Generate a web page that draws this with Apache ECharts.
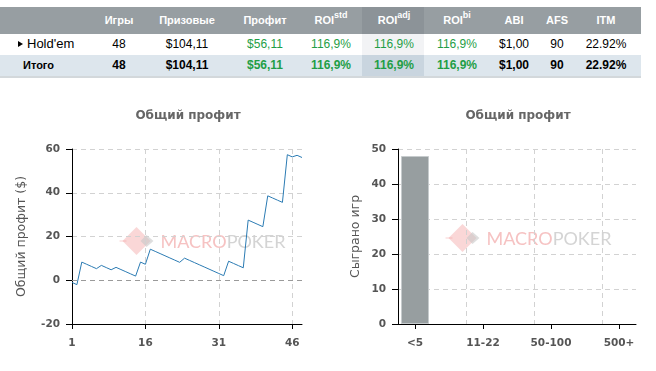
<!DOCTYPE html>
<html><head><meta charset="utf-8">
<script src="https://cdn.jsdelivr.net/npm/echarts@6/dist/echarts.min.js"></script>
<style>
html,body{margin:0;padding:0;background:#fff;width:656px;height:371px;overflow:hidden;}
#chart{position:absolute;left:0;top:0;width:656px;height:371px;}
#tbl{position:absolute;left:0;top:0;width:656px;height:80px;z-index:2;font-family:"Liberation Sans",Arial,sans-serif;}
.band{position:absolute;left:0;width:641px;}
.cell{position:absolute;white-space:nowrap;transform:translateX(-50%);line-height:14px;}
sup{font-size:9px;line-height:0;position:relative;top:-1px;}
</style></head>
<body>
<div id="tbl"></div>
<div id="chart"></div>
<script>
// ---- table data ----
const headerNames = ['Игры','Призовые','Профит','ROI','ROI','ROI','ABI','AFS','ITM'];
const headerSups  = ['','','','std','adj','bi','','',''];
const rowLabels   = ["Hold'em", 'Итого'];
const holdemRow   = ['48','$104,11','$56,11','116,9%','116,9%','116,9%','$1,00','90','22.92%'];
const totalRow    = ['48','$104,11','$56,11','116,9%','116,9%','116,9%','$1,00','90','22.92%'];
const greenCols   = [2,3,4,5];

// ---- chart data ----
const games = ['1','2','3','4','5','6','7','8','9','10','11','12','13','14','15','16','17','18','19','20','21','22','23','24','25','26','27','28','29','30','31','32','33','34','35','36','37','38','39','40','41','42','43','44','45','46','47','48'];
const profit = [-1,-2,8.3,7.3,6.3,5.3,6.8,5.8,4.8,5.9,4.9,3.9,2.9,1.9,8.3,7.3,14.2,13.2,12.2,11.2,10.2,9.2,8.2,10.1,9.1,8.1,7.1,6.1,5.1,4.1,3.1,2.1,8.7,7.7,6.7,5.7,27.5,26.5,25.5,24.5,38.6,37.6,36.6,35.6,57.4,56.4,57.11,56.11];
const buyinCats = ['<5','5-10','11-22','22-50','50-100','100-500','500+'];
const gamesPlayed = [48,0,0,0,0,0,0];

// ---- build table (HTML) ----
const colX = [119,187,265,331,394,457,514,557,606];
const tbl = document.getElementById('tbl');
function band(top,h,bg){const d=document.createElement('div');d.className='band';d.style.top=top+'px';d.style.height=h+'px';d.style.background=bg;tbl.appendChild(d);return d;}
band(7,27,'#979ea2');
band(34,21,'#ffffff');
band(55,21,'#dde6ed');
band(76,2,'#d3d8db');
function block(l,t,w,h,bg){const d=document.createElement('div');d.style.cssText='position:absolute;left:'+l+'px;top:'+t+'px;width:'+w+'px;height:'+h+'px;background:'+bg;tbl.appendChild(d);}
block(362,7,62,27,'#8c9398');
block(362,34,62,21,'#f2f3f5');
block(362,55,62,21,'#c9d5df');
function cell(x,y,txt,style){const d=document.createElement('div');d.className='cell';d.style.left=x+'px';d.style.top=y+'px';d.style.cssText+=style;d.innerHTML=txt;tbl.appendChild(d);}
headerNames.forEach((h,i)=>{cell(colX[i],13,h+(headerSups[i]?'<sup>'+headerSups[i]+'</sup>':''),'color:#fff;font-weight:bold;font-size:11px;');});
const tri=document.createElement('div');tri.style.cssText='position:absolute;left:18px;top:41px;width:0;height:0;border-top:3.5px solid transparent;border-bottom:3.5px solid transparent;border-left:5px solid #000;';tbl.appendChild(tri);
const l1=document.createElement('div');l1.style.cssText='position:absolute;left:27px;top:37px;font-size:13px;line-height:14px;color:#000;';l1.textContent=rowLabels[0];tbl.appendChild(l1);
const l2=document.createElement('div');l2.style.cssText='position:absolute;left:23px;top:58px;font-size:11px;line-height:14px;font-weight:bold;color:#000;';l2.textContent=rowLabels[1];tbl.appendChild(l2);
holdemRow.forEach((v,i)=>{cell(colX[i],37,v,'font-size:12px;color:'+(greenCols.includes(i)?'#1f9e46':'#000')+';');});
totalRow.forEach((v,i)=>{cell(colX[i],58,v,'font-size:12px;font-weight:bold;color:'+(greenCols.includes(i)?'#1f9e46':'#000')+';');});

// ---- chart ----
const axisFont = {color:'#555',fontWeight:'bold',fontFamily:'DejaVu Sans',fontSize:10.5};
const nameFont = {color:'#555',fontFamily:'DejaVu Sans',fontSize:12.5};
const dash = {color:'#d2d2d2',type:[5,4],width:1};
function watermark(x,y){
  return {type:'group',left:x,top:y,silent:true,children:[
    {type:'polygon',shape:{points:[[0,14],[14,0],[28,14],[14,28]]},style:{fill:'rgba(240,140,140,0.35)'}},
    {type:'polygon',shape:{points:[[18,14],[24,8],[31,14],[24,20]]},style:{fill:'rgba(200,200,200,0.6)'}},
    {type:'line',shape:{x1:-3,y1:14,x2:4,y2:14},style:{stroke:'rgba(240,140,140,0.4)',lineWidth:1}},
    {type:'text',x:38,y:6,style:{text:'{a|MACRO}{b|POKER}',rich:{a:{fill:'#f6c2c2',fontSize:18,fontFamily:'Lato'},b:{fill:'#d4d4d4',fontSize:18,fontFamily:'Lato'}}}}
  ]};
}
const barData = gamesPlayed.map(v => v > 0 ? v : {value:v,itemStyle:{borderWidth:0}});
const chart = echarts.init(document.getElementById('chart'),null,{renderer:'canvas'});
chart.setOption({
  animation:false,
  title:[
    {text:'Общий профит',left:188,top:110,textAlign:'center',padding:0,textStyle:{color:'#666',fontFamily:'DejaVu Sans',fontWeight:'bold',fontSize:12}},
    {text:'Общий профит',left:518,top:110,textAlign:'center',padding:0,textStyle:{color:'#666',fontFamily:'DejaVu Sans',fontWeight:'bold',fontSize:12}}
  ],
  grid:[
    {left:72,top:149,width:230,height:175},
    {left:398,top:149,width:238,height:175}
  ],
  xAxis:[
    {type:'category',gridIndex:0,data:games,boundaryGap:false,
     axisLine:{onZero:false,lineStyle:{color:'#000',width:1}},
     axisTick:{show:true,length:5,interval:14,lineStyle:{color:'#000'}},
     axisLabel:Object.assign({interval:14,margin:14},axisFont),
     splitLine:{show:true,interval:14,lineStyle:dash}},
    {type:'category',gridIndex:1,data:buyinCats,boundaryGap:true,
     axisLine:{onZero:false,lineStyle:{color:'#000',width:1}},
     axisTick:{show:true,length:5,interval:1,alignWithLabel:true,lineStyle:{color:'#000'}},
     axisLabel:Object.assign({interval:1,margin:14},axisFont),
     splitLine:{show:true,interval:1,showMaxLine:false,lineStyle:dash}}
  ],
  yAxis:[
    {type:'value',gridIndex:0,min:-20,max:60,interval:20,
     name:'Общий профит ($)',nameLocation:'middle',nameGap:44,nameTextStyle:nameFont,
     axisLine:{show:true,lineStyle:{color:'#000',width:1}},
     axisTick:{show:true,length:6,lineStyle:{color:'#000'}},
     axisLabel:Object.assign({margin:12},axisFont),
     splitLine:{show:true,lineStyle:dash}},
    {type:'value',gridIndex:1,min:0,max:50,interval:10,
     name:'Сыграно игр',nameLocation:'middle',nameGap:36,nameTextStyle:nameFont,
     axisLine:{show:true,lineStyle:{color:'#000',width:1}},
     axisTick:{show:true,length:6,lineStyle:{color:'#000'}},
     axisLabel:Object.assign({margin:12},axisFont),
     splitLine:{show:true,lineStyle:dash}}
  ],
  graphic:[watermark(117,227),watermark(443,224)],
  series:[
    {type:'line',xAxisIndex:0,yAxisIndex:0,data:profit,symbol:'none',
     lineStyle:{color:'#2b7bb3',width:1},
     markLine:{silent:true,symbol:'none',label:{show:false},lineStyle:{color:'#9a9a9a',type:[5,4],width:1},data:[{yAxis:0}]},
     z:3},
    {type:'bar',xAxisIndex:1,yAxisIndex:1,data:barData,barWidth:28,
     itemStyle:{color:'#979ea0',borderColor:'#c6cbcd',borderWidth:1}}
  ]
});
</script>
</body></html>
